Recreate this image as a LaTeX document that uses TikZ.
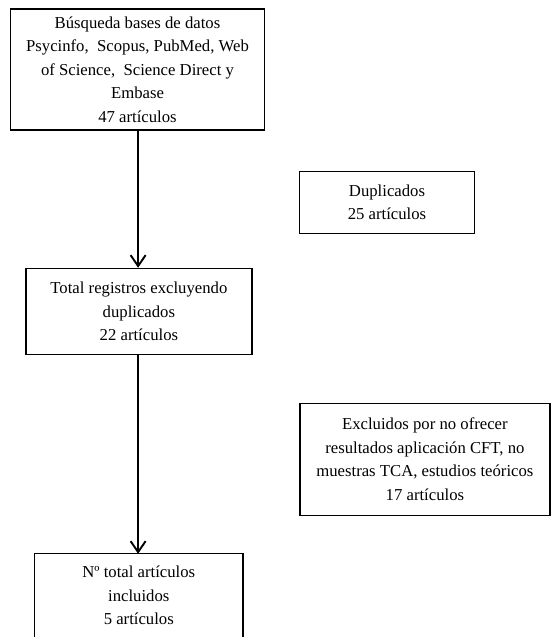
\documentclass[tikz,border=0pt]{standalone}
\usepackage{fontspec}
\setmainfont{Liberation Serif}
\usetikzlibrary{arrows.meta}
\tikzset{
  box/.style={draw=black, line width=1.2pt, align=center, inner sep=2pt,
    font=\fontsize{16.7}{23.5}\selectfont},
  boxline/.style={draw=black, line width=1.2pt},
  flow/.style={line width=1.9pt, -{Straight Barb[length=11pt,width=15pt,line width=1.9pt]}}
}
\begin{document}
\begin{tikzpicture}[x=1pt,y=-1pt]
\useasboundingbox (0,0) rectangle (551,637);
\node[box, minimum width=254pt, minimum height=121pt] (b1) at (137.5,69.5)
  {Búsqueda bases de datos\\Psycinfo,~ Scopus, PubMed, Web\\of Science,~ Science Direct y\\Embase\\47 artículos};
\node[box, minimum width=175pt, minimum height=62pt] (b2) at (387,202.3)
  {Duplicados\\25 artículos};
\node[box, minimum width=226pt, minimum height=86pt] (b3) at (138.9,311.4)
  {Total registros excluyendo\\duplicados\\22 artículos};
\node[box, minimum width=250pt, minimum height=112pt] (b4) at (424.9,459.3)
  {Excluidos por no ofrecer\\resultados aplicación CFT, no\\muestras TCA, estudios teóricos\\17 artículos};
\node[box, draw=none, minimum width=207pt, minimum height=82pt] (b5) at (138.8,595.4)
  {Nº total artículos\\incluidos\\5 artículos};
\draw[boxline] (b5.west |- 0,650) -- (b5.north west) -- (b5.north east) -- (b5.east |- 0,650);
\coordinate (a1s) at (138.1,130);
\coordinate (a2s) at (138.1,354.2);
\draw[flow] (b1.south -| a1s) -- (b3.north -| a1s);
\draw[flow] (b3.south -| a2s) -- (b5.north -| a2s);
\end{tikzpicture}
\end{document}
